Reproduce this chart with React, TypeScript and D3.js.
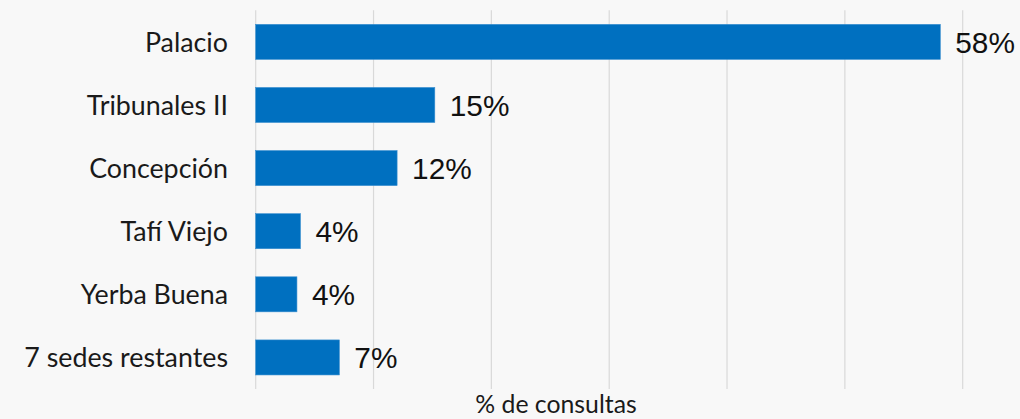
import React from "react";
import * as d3 from "d3";

const categories = ["Palacio", "Tribunales II", "Concepción", "Tafí Viejo", "Yerba Buena", "7 sedes restantes"];
const values = [58.1, 15.2, 12.0, 3.8, 3.5, 7.1];
const valueLabels = ["58%", "15%", "12%", "4%", "4%", "7%"];
const gridTicks = [0, 10, 20, 30, 40, 50, 60];
const axisTitle = "% de consultas";

const W = 1020;
const H = 419;

export default function App() {
  const x = d3.scaleLinear().domain([0, 60]).range([255.7, 962.7]);
  const y = d3
    .scaleBand<string>()
    .domain(categories)
    .range([10.3, 389])
    .paddingInner(0.445)
    .paddingOuter(0.2225);
  const bw = y.bandwidth();

  return (
    <svg
      width={W}
      height={H}
      style={{ position: "absolute", left: 0, top: 0, display: "block" }}
    >
      <rect x={0} y={0} width={W} height={H} fill="#f8f8f8" />
      {gridTicks.map((t) => (
        <line
          key={t}
          x1={x(t)}
          x2={x(t)}
          y1={10.3}
          y2={389}
          stroke="#d9d9d9"
          strokeWidth={1.2}
        />
      ))}
      {categories.map((c, i) => {
        const yy = y(c)!;
        return (
          <g key={c}>
            <rect
              x={x(0)}
              y={yy}
              width={x(values[i]) - x(0)}
              height={bw}
              fill="#0070C0"
              stroke="#3a8fd0"
              strokeWidth={0.6}
            />
            <text
              x={228}
              y={yy + bw / 2}
              dy="0.36em"
              textAnchor="end"
              fontFamily="Lato, 'Noto Sans', sans-serif"
              fontSize={26.8}
              fill="#1a1a1a"
            >
              {c}
            </text>
            <text
              x={x(values[i]) + 15}
              y={yy + bw / 2}
              dy="0.36em"
              fontFamily="'Liberation Sans', Arial, sans-serif"
              fontSize={29.8}
              fill="#111"
            >
              {valueLabels[i]}
            </text>
          </g>
        );
      })}
      <text
        x={556}
        y={413}
        textAnchor="middle"
        fontFamily="Lato, 'Noto Sans', sans-serif"
        fontSize={24.8}
        fill="#1a1a1a"
      >
        {axisTitle}
      </text>
    </svg>
  );
}
